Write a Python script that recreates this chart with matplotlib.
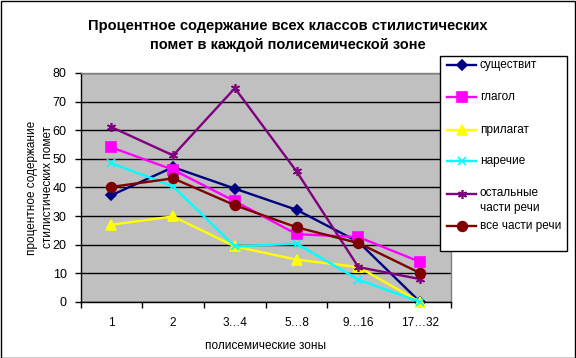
import matplotlib
matplotlib.use("Agg")
import matplotlib.pyplot as plt
from matplotlib.lines import Line2D
from matplotlib.patches import Rectangle

plt.rcParams['font.family'] = ['Liberation Sans', 'DejaVu Sans']

# data
zones = ["1", "2", "3…4", "5…8", "9…16", "17…32"]
nouns = [37.3, 47.1, 39.6, 32.2, 21.0, 0.0]
verbs = [54.0, 46.2, 35.2, 23.7, 22.7, 14.0]
adjectives = [27.0, 29.9, 19.4, 14.8, 12.2, 0.0]
adverbs = [48.5, 40.4, 19.4, 20.4, 7.8, 0.0]
other_pos = [61.1, 51.2, 74.7, 45.6, 12.2, 8.0]
all_pos = [40.2, 43.2, 33.8, 26.1, 20.6, 10.1]

labels = ["существит", "глагол", "прилагат", "наречие",
          "остальные\nчасти речи", "все части речи"]
series = [nouns, verbs, adjectives, adverbs, other_pos, all_pos]
colors = ["#000080", "#FF00FF", "#FFFF00", "#00FFFF", "#800080", "#800000"]
markers = ["D", "s", "^", "x", (6, 2, 0), "o"]
msizes = [5, 6.5, 7, 5.5, 6.5, 7]

fig = plt.figure(figsize=(5.76, 3.58), dpi=100)
ax = fig.add_axes([80.5 / 576, 1 - 302 / 358, 370.5 / 576, 229 / 358])
ax.set_facecolor("#C0C0C0")

x = [i + 0.5 for i in range(len(zones))]
for vals, c, m, ms in zip(series, colors, markers, msizes):
    ax.plot(x, vals, color=c, lw=1.7, marker=m, ms=ms, mfc=c, mec=c, mew=1.2,
            clip_on=False, zorder=3)

ax.set_xlim(0, 6)
ax.set_ylim(0, 80)
ax.set_yticks(range(0, 81, 10))
ax.yaxis.grid(True, color="black", lw=1)
ax.set_axisbelow(True)
ax.set_xticks(x)
ax.set_xticklabels(zones)
ax.set_xticks(range(0, 7), minor=True)
ax.tick_params(axis="x", which="major", length=0, pad=11, labelsize=8.5)
ax.tick_params(axis="x", which="minor", length=4, width=1, direction="out")
ax.tick_params(axis="y", length=4, width=1, pad=6, labelsize=9)

for side in ["top", "right"]:
    ax.spines[side].set_color("#808080")
    ax.spines[side].set_linewidth(1)
for side in ["left", "bottom"]:
    ax.spines[side].set_color("black")
    ax.spines[side].set_linewidth(1)

ax.set_xlabel("полисемические зоны", fontsize=8.5, labelpad=8)
ax.set_ylabel("процентное содержание\nстилистических помет", fontsize=8.5,
              labelpad=-1, linespacing=1.5)

fig.text(0.5, 1 - 19 / 358,
         "Процентное содержание всех классов стилистических\nпомет в каждой полисемической зоне",
         ha="center", va="top", fontsize=10.5, fontweight="bold", linespacing=1.45)

# legend box, drawn by hand to keep the Excel layout
W, H = 576, 358
fig.patches.append(Rectangle((440 / W, 1 - 251 / H), 127 / W, 195 / H,
                             transform=fig.transFigure, facecolor="white",
                             edgecolor="black", lw=1, zorder=5))
entry_y = [65, 97, 130, 161, 194, 226]
for yy, lab, c, m, ms in zip(entry_y, labels, colors, markers, msizes):
    fy = 1 - yy / H
    fig.add_artist(Line2D([447 / W, 476 / W], [fy, fy], transform=fig.transFigure,
                          color=c, lw=1.7, zorder=6))
    fig.add_artist(Line2D([461.5 / W], [fy], transform=fig.transFigure,
                          color=c, marker=m, ms=ms, mfc=c, mec=c, mew=1.2, zorder=7))
    if "\n" in lab:
        fig.text(480 / W, fy + 7 / H, lab, ha="left", va="top",
                 fontsize=8.5, zorder=7, linespacing=1.3)
    else:
        fig.text(480 / W, fy, lab, ha="left", va="center", fontsize=8.5, zorder=7)

# outer frame
fig.patches.append(Rectangle((0.5 / W, 0.5 / H), 1 - 1.5 / W, 1 - 1.5 / H,
                             transform=fig.transFigure, fill=False,
                             edgecolor="black", lw=1, zorder=10))

fig.savefig("out.png", dpi=100)
